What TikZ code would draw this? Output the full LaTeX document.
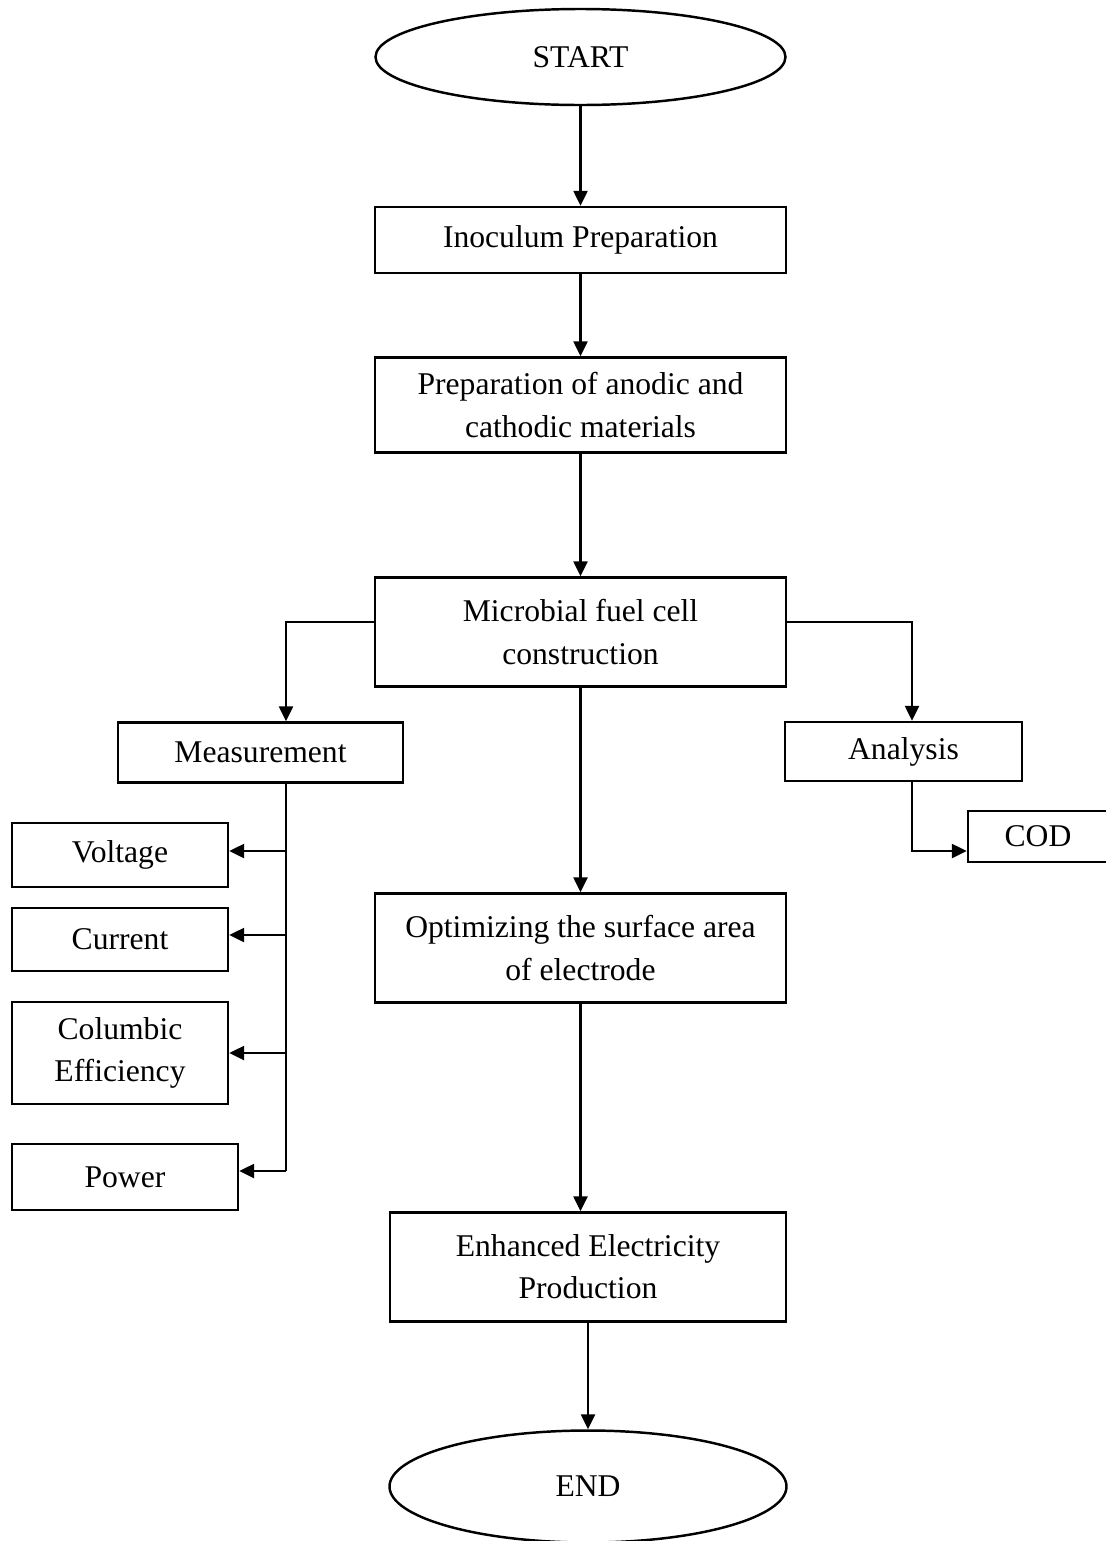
\documentclass[tikz,border=0pt]{standalone}
\usepackage{fontspec}
\setmainfont{Liberation Serif}
\usepackage{tikz}
\usetikzlibrary{positioning, shapes.geometric, arrows.meta}

\begin{document}
\begin{tikzpicture}[node distance=3.3cm, font=\fontsize{18}{24}\selectfont]
    % Define styles
    \tikzstyle{startstop} = [ellipse, minimum width=8.2cm, minimum height=1.92cm, align=center, draw=black, line width=1.4pt]
    \tikzstyle{process} = [rectangle, minimum width=8.22cm, minimum height=2.18cm, align=center, draw=black, line width=1.4pt]
    \tikzstyle{side} = [rectangle, minimum width=4.32cm, align=center, inner sep=0pt, draw=black, line width=1.4pt]
    \tikzstyle{arrow} = [line width=1.4pt, -{Triangle[length=0.3cm, width=0.28cm]}]
    \tikzstyle{line} = [line width=1.4pt]

    \useasboundingbox (0,0) rectangle (22.1,-30.82);

    % Nodes
    \node (start) [startstop] at (11.61,-1.14) {START};
    \node (inoc) [process, below of=start, yshift=-0.36cm, minimum height=1.32cm] {Inoculum Preparation};
    \node (prep) [process, below of=inoc, minimum height=1.9cm] {Preparation of anodic and\\cathodic materials};
    \node (micro) [process, below of=prep, yshift=-1.24cm] {Microbial fuel cell\\construction};
    \node (optim) [process, below of=micro, yshift=-3.02cm] {Optimizing the surface area\\of electrode};
    \node (enh) [process, below of=optim, yshift=-3.08cm, xshift=0.15cm, minimum width=7.92cm] {Enhanced Electricity\\Production};
    \node (end) [startstop, below of=enh, yshift=-1.09cm, minimum width=7.94cm, minimum height=2.24cm] {END};

    \node (meas) [side, minimum width=5.7cm, minimum height=1.2cm] at (5.21,-15.05) {Measurement};
    \node (anal) [side, minimum width=4.74cm, minimum height=1.18cm] at (18.07,-15.03) {Analysis};
    \node (volt) [side, minimum height=1.28cm] at (2.40,-17.10) {Voltage};
    \node (curr) [side, minimum height=1.26cm, below of=volt, node distance=1.69cm] {Current};
    \node (colum) [side, minimum height=2.04cm, below of=curr, node distance=2.27cm] {Columbic\\Efficiency};
    \node (power) [side, minimum width=4.52cm, minimum height=1.32cm, below of=colum, node distance=2.48cm, xshift=0.1cm] {Power};
    \node (cod) [side, minimum width=2.8cm, minimum height=1.02cm] at (20.76,-16.73) {COD};

    \coordinate (lsplit) at (5.72,-12.44);
    \coordinate (rsplit) at (18.24,-12.44);
    \coordinate (trunk) at (5.72,-23.42);

    % Arrows
    \draw [arrow] (start) -- (inoc);
    \draw [arrow] (inoc) -- (prep);
    \draw [arrow] (prep) -- (micro);
    \draw [arrow] (micro) -- (optim);
    \draw [arrow] (optim) -- (optim |- enh.north);
    \draw [arrow] (enh) -- (end);

    \draw [arrow] (micro.west |- lsplit) -- (lsplit) -- (lsplit |- meas.north);
    \draw [arrow] (micro.east |- rsplit) -- (rsplit) -- (rsplit |- anal.north);

    \draw [line] (meas.south -| trunk) -- (trunk);
    \foreach \n/\s in {volt/0.08, curr/0.09, colum/0, power/0.12}
        \draw [arrow] ([yshift=\s cm]\n.east -| trunk) -- ([yshift=\s cm]\n.east);

    \draw [arrow] (anal.south -| rsplit) |- ([yshift=-0.29cm]cod.west);
\end{tikzpicture}
\end{document}
